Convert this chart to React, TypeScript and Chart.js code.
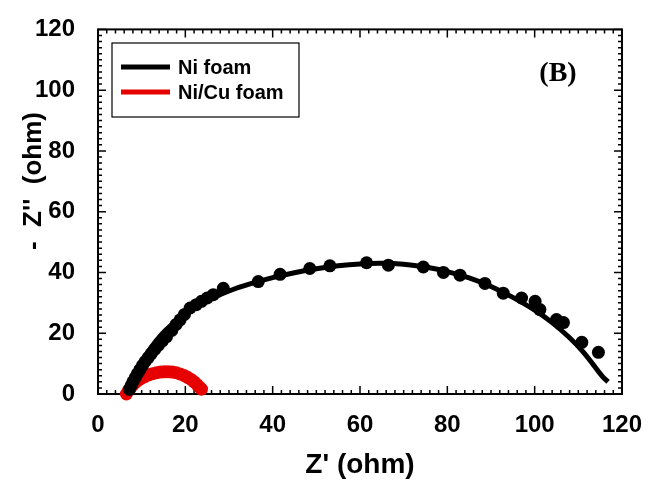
import { useEffect, useRef } from "react";
import { Chart, registerables } from "chart.js";

Chart.register(...registerables);

// ---- data ----
const seriesLabels = ["Ni foam", "Ni/Cu foam"];
const seriesColors = ["#000000", "#e60000"];
const panelLabel = "(B)";
const xTitle = "Z' (ohm)";
const yTitle = "-  Z''  (ohm)";
const xTickValues = [0, 20, 40, 60, 80, 100, 120];
const yTickValues = [0, 20, 40, 60, 80, 100, 120];

// Ni foam measured points
const niFoamZre = [7.2, 7.6, 8.0, 8.5, 9.0, 9.6, 10.2, 10.8, 11.5, 12.2, 13.0, 13.8, 14.7, 15.7, 16.9, 17.9, 18.8, 19.8, 21.1, 22.5, 23.7, 25.0, 26.4, 28.7, 36.7, 41.7, 48.5, 53.1, 61.5, 66.5, 74.5, 79.1, 82.9, 88.6, 92.8, 97.0, 100.1, 101.2, 105.0, 106.6, 110.8, 114.6];
const niFoamZim = [1.5, 2.8, 4.0, 5.3, 6.6, 8.0, 9.4, 10.7, 12.0, 13.3, 14.7, 16.0, 17.4, 18.9, 20.9, 22.9, 24.4, 26.2, 28.3, 29.4, 30.5, 31.6, 32.7, 34.8, 37.0, 39.4, 41.3, 42.2, 43.2, 42.4, 41.8, 40.0, 39.1, 36.4, 33.2, 31.6, 30.5, 27.8, 24.5, 23.5, 17.0, 13.7];

// Ni foam fitted curve
const niFoamFitZre = [6.8, 7.5, 8.5, 10, 12, 14.5, 17, 20, 23, 26.5, 30, 35, 40, 45, 50, 55, 60, 65, 70, 75, 80, 85, 90, 95, 100, 104, 108, 111, 113.5, 115.5, 116.8];
const niFoamFitZim = [0.5, 2.5, 6, 10.5, 15, 19.5, 23, 26.3, 29, 31.7, 33.9, 36.3, 38.3, 39.9, 41.2, 42.2, 42.8, 43, 42.7, 41.8, 40.3, 38.2, 35.4, 31.8, 27.6, 23.5, 18.5, 14, 9.5, 5.8, 4];

// Ni/Cu foam measured points
const niCuZre = [6.5, 7.0, 7.5, 8.0, 8.6, 9.3, 10.0, 10.8, 11.6, 12.5, 13.4, 14.3, 15.2, 16.1, 17.0, 17.9, 18.8, 19.7, 20.5, 21.3, 22.0, 22.7, 23.3, 23.7];
const niCuZim = [0.0, 1.2, 2.2, 3.0, 3.8, 4.6, 5.2, 5.8, 6.3, 6.7, 7.0, 7.2, 7.3, 7.3, 7.2, 7.0, 6.6, 6.1, 5.5, 4.8, 4.0, 3.1, 2.2, 1.6];

const pts = (xs: number[], ys: number[]) => xs.map((x, i) => ({ x, y: ys[i] }));

const FONT = "'Liberation Sans', Arial, sans-serif";

const framePlugin = {
  id: "frameTicks",
  beforeDatasetsDraw(chart: any) {
    const { ctx, chartArea } = chart;
    const sx = chart.scales.x;
    const sy = chart.scales.y;
    const { left, right, top, bottom } = chartArea;
    ctx.save();
    ctx.strokeStyle = "#000";
    ctx.lineWidth = 2;
    ctx.strokeRect(left, top, right - left, bottom - top);
    ctx.lineWidth = 1.5;
    ctx.beginPath();
    for (let v = sx.min; v <= sx.max; v += 2) {
      const major = v % 20 === 0;
      const len = major ? 8 : 4;
      const px = sx.getPixelForValue(v);
      ctx.moveTo(px, bottom);
      ctx.lineTo(px, bottom - len);
      ctx.moveTo(px, top);
      ctx.lineTo(px, top + len);
    }
    for (let v = sy.min; v <= sy.max; v += 2) {
      const major = v % 20 === 0;
      const len = major ? 8 : 4;
      const py = sy.getPixelForValue(v);
      ctx.moveTo(left, py);
      ctx.lineTo(left + len, py);
      ctx.moveTo(right, py);
      ctx.lineTo(right - len, py);
    }
    ctx.stroke();
    ctx.restore();
  },
  afterDraw(chart: any) {
    const { ctx } = chart;
    ctx.save();
    // y axis title
    ctx.translate(34, 181);
    ctx.rotate(-Math.PI / 2);
    ctx.fillStyle = "#000";
    ctx.font = `bold 26px ${FONT}`;
    ctx.textAlign = "center";
    ctx.textBaseline = "middle";
    ctx.fillText(yTitle, 0, 0);
    ctx.restore();

    // legend box
    ctx.save();
    ctx.strokeStyle = "#000";
    ctx.lineWidth = 1.2;
    ctx.strokeRect(112, 43, 187, 74);
    const rows = [67, 92];
    seriesLabels.forEach((lab, i) => {
      ctx.strokeStyle = seriesColors[i];
      ctx.lineWidth = 5;
      ctx.beginPath();
      ctx.moveTo(121, rows[i]);
      ctx.lineTo(170, rows[i]);
      ctx.stroke();
      ctx.fillStyle = "#000";
      ctx.font = `bold 20px ${FONT}`;
      ctx.textAlign = "left";
      ctx.textBaseline = "middle";
      ctx.fillText(lab, 178, rows[i] + 1);
    });
    // panel label
    ctx.font = `bold 28px 'Liberation Serif', 'Times New Roman', serif`;
    ctx.textAlign = "center";
    ctx.textBaseline = "middle";
    ctx.fillText(panelLabel, 558, 74);
    ctx.restore();
  },
};

export default function App() {
  const ref = useRef<HTMLCanvasElement | null>(null);
  useEffect(() => {
    document.body.style.margin = "0";
    const canvas = ref.current;
    if (!canvas) return;
    const tickFont = { family: FONT, weight: "bold" as const, size: 24 };
    const chart = new Chart(canvas, {
      type: "scatter",
      data: {
        datasets: [
          {
            label: seriesLabels[0] + " fit",
            data: pts(niFoamFitZre, niFoamFitZim),
            showLine: true,
            borderColor: seriesColors[0],
            borderWidth: 5,
            pointRadius: 0,
            tension: 0.3,
            clip: false as any,
          },
          {
            label: seriesLabels[0],
            data: pts(niFoamZre, niFoamZim),
            showLine: false,
            backgroundColor: seriesColors[0],
            borderColor: seriesColors[0],
            pointRadius: 6.5,
            pointBorderWidth: 0,
            clip: false as any,
          },
          {
            label: seriesLabels[1],
            data: pts(niCuZre, niCuZim),
            showLine: true,
            borderColor: seriesColors[1],
            backgroundColor: seriesColors[1],
            borderWidth: 8,
            pointRadius: 6.5,
            pointBorderWidth: 0,
            tension: 0.3,
            clip: false as any,
          },
        ],
      },
      options: {
        responsive: false,
        animation: false,
        devicePixelRatio: 1,
        layout: { padding: { left: 0, right: 33, top: 24, bottom: 0 } },
        plugins: { legend: { display: false }, tooltip: { enabled: false } },
        scales: {
          x: {
            type: "linear",
            min: xTickValues[0],
            max: xTickValues[xTickValues.length - 1],
            afterBuildTicks: (s: any) => {
              s.ticks = xTickValues.map((v) => ({ value: v }));
            },
            ticks: { font: tickFont, color: "#000", padding: 9 },
            grid: { display: false },
            border: { display: false },
            title: {
              display: true,
              text: xTitle,
              color: "#000",
              font: { family: FONT, weight: "bold", size: 28 },
              padding: 5,
            },
            afterFit: (s: any) => {
              s.height = 93;
            },
          },
          y: {
            type: "linear",
            min: yTickValues[0],
            max: yTickValues[yTickValues.length - 1],
            afterBuildTicks: (s: any) => {
              s.ticks = yTickValues.map((v) => ({ value: v }));
            },
            ticks: { font: tickFont, color: "#000", padding: 15 },
            grid: { display: false },
            border: { display: false },
            afterFit: (s: any) => {
              s.width = 98;
            },
          },
        },
      },
      plugins: [framePlugin],
    });
    return () => chart.destroy();
  }, []);
  return (
    <div style={{ width: 655, height: 487, background: "#fff" }}>
      <canvas ref={ref} width={655} height={487} style={{ display: "block" }} />
    </div>
  );
}
